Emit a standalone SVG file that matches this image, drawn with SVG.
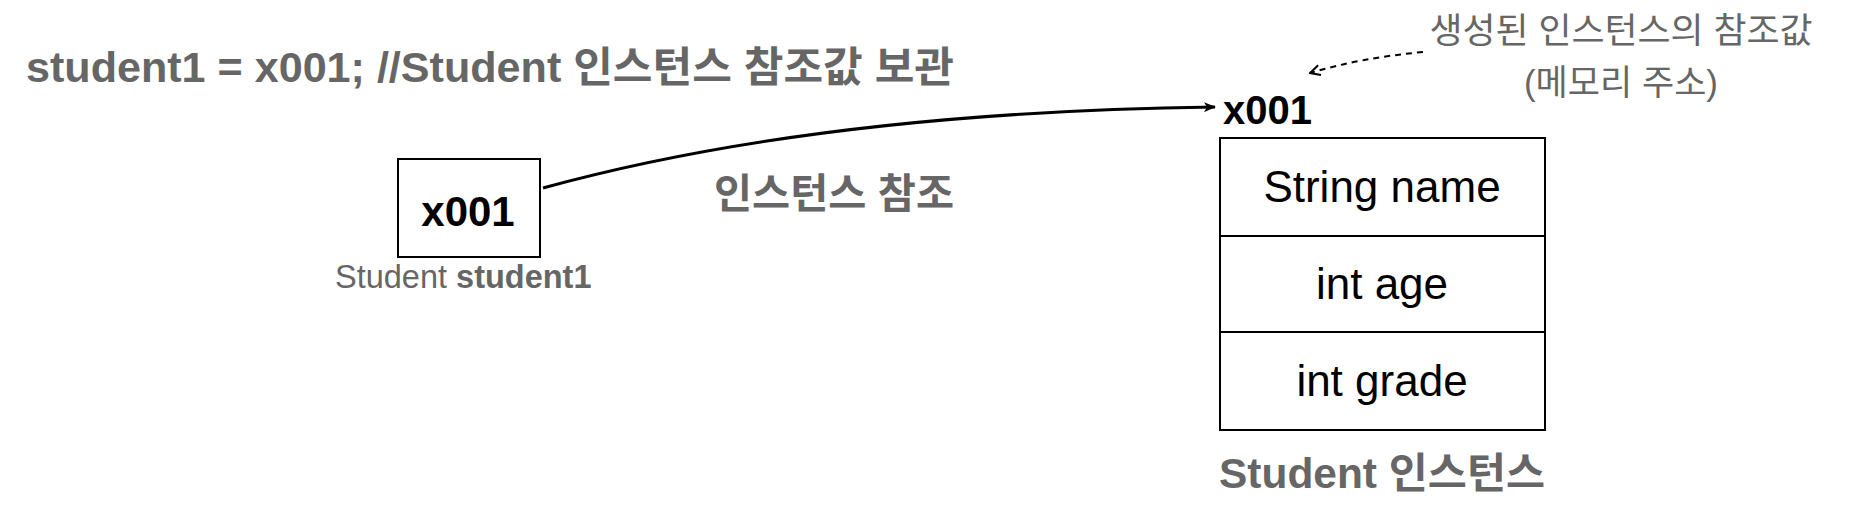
<svg xmlns="http://www.w3.org/2000/svg" width="1858" height="516" viewBox="0 0 1858 516">
<style>
text{font-family:"Liberation Sans","Noto Sans CJK KR",sans-serif}
.g{fill:#666666}
.b{font-weight:bold}
.box{fill:#fff;stroke:#000;stroke-width:2}
.fld{font-size:44px;fill:#000;text-anchor:middle}
</style>
<defs>
<marker id="ah" viewBox="0 0 12 10" refX="11" refY="5" markerWidth="12" markerHeight="10" markerUnits="userSpaceOnUse" orient="auto">
<path d="M0,0 L12,5 L0,10 L3,5 Z" fill="#000"/>
</marker>
<marker id="oh" viewBox="0 0 12 12" refX="11" refY="6" markerWidth="12" markerHeight="12" markerUnits="userSpaceOnUse" orient="auto">
<path d="M1,1 L11,6 L1,11" fill="none" stroke="#000" stroke-width="2"/>
</marker>
</defs>
<rect width="1858" height="516" fill="#fff"/>
<g id="title">
<text class="g b" x="26" y="82" font-size="42" textLength="928" lengthAdjust="spacingAndGlyphs">student1 = x001; //Student 인스턴스 참조값 보관</text>
</g>
<g id="note">
<text class="g" x="1621" y="43" font-size="35" text-anchor="middle" textLength="383" lengthAdjust="spacingAndGlyphs">생성된 인스턴스의 참조값</text>
<text class="g" x="1621" y="95" font-size="35" text-anchor="middle">(메모리 주소)</text>
</g>
<g id="var">
<rect class="box" x="398" y="159" width="142" height="98"/>
<text class="b" x="468" y="226" font-size="42" text-anchor="middle">x001</text>
<text class="g" x="335" y="288" font-size="32.5"><tspan>Student </tspan><tspan class="b">student1</tspan></text>
</g>
<g id="instance">
<text class="b" x="1223" y="124" font-size="40">x001</text>
<rect class="box" x="1220" y="138" width="325" height="292"/>
<line x1="1220" y1="236" x2="1545" y2="236" stroke="#000" stroke-width="2"/>
<line x1="1220" y1="332" x2="1545" y2="332" stroke="#000" stroke-width="2"/>
<text class="fld" x="1382" y="202">String name</text>
<text class="fld" x="1382" y="299">int age</text>
<text class="fld" x="1382" y="396">int grade</text>
<text class="g b" x="1219" y="488" font-size="42" textLength="326" lengthAdjust="spacingAndGlyphs">Student 인스턴스</text>
</g>
<g id="edge-label">
<text class="g b" x="714" y="208" font-size="41" textLength="240" lengthAdjust="spacingAndGlyphs">인스턴스 참조</text>
</g>
<g id="connectors">
<path d="M543,188 Q820,112 1215,107" fill="none" stroke="#000" stroke-width="3" marker-end="url(#ah)"/>
<path d="M1423,52 Q1360,58 1310,73" fill="none" stroke="#000" stroke-width="2" stroke-dasharray="6,5" marker-end="url(#oh)"/>
</g>
</svg>
